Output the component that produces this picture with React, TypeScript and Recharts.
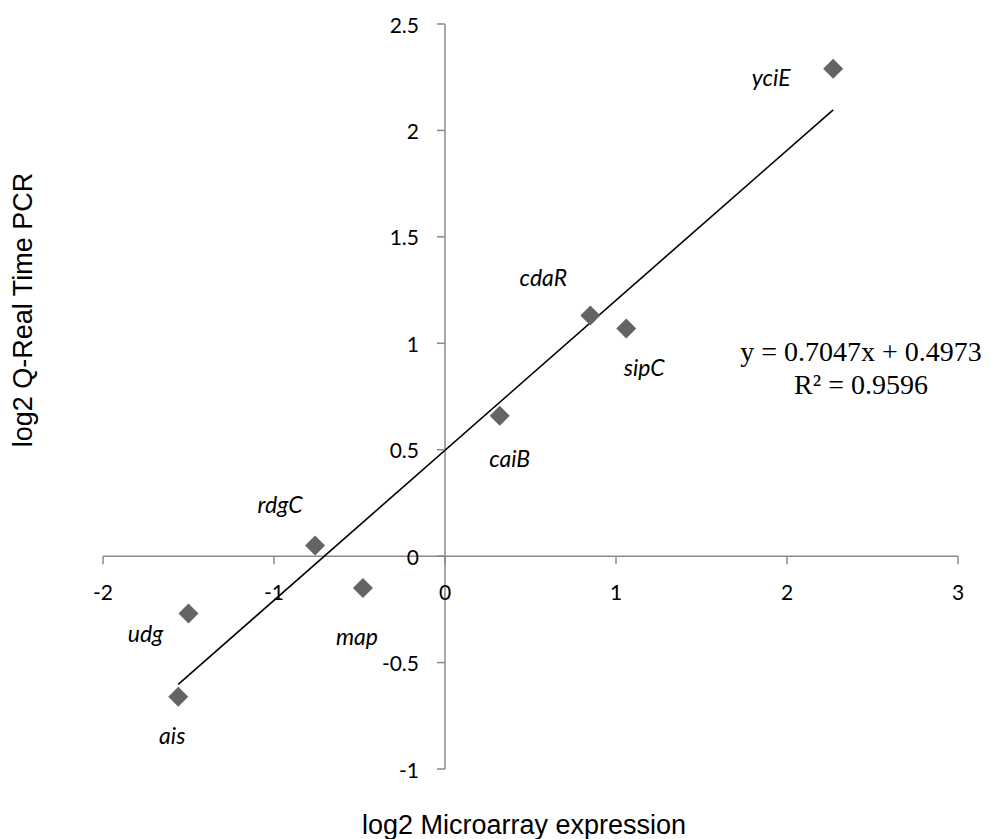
import { ScatterChart, Scatter, XAxis, YAxis, ReferenceLine } from 'recharts';

// Gene-level log2 fold changes: microarray (x) vs. Q-Real Time PCR (y)
const GENES = ['yciE', 'cdaR', 'sipC', 'caiB', 'rdgC', 'map', 'udg', 'ais'];
const MICROARRAY = [2.27, 0.85, 1.06, 0.32, -0.76, -0.48, -1.5, -1.56];
const QPCR = [2.29, 1.13, 1.07, 0.66, 0.05, -0.15, -0.27, -0.66];

const X_TICKS = [-2, -1, 0, 1, 2, 3];
const Y_TICKS = [-1, -0.5, 0, 0.5, 1, 1.5, 2, 2.5];

// Linear trendline as reported by the fit
const SLOPE = 0.7047;
const INTERCEPT = 0.4973;
const R_SQUARED = 0.9596;

const WIDTH = 996;
const HEIGHT = 839;
// axes need a non-zero size or recharts skips their ticks
const X_AXIS_H = 1;
const Y_AXIS_W = 1;
const MARGIN = { top: 24, right: 38, bottom: 70 - X_AXIS_H, left: 103 - Y_AXIS_W };
const X_DOMAIN: [number, number] = [-2, 3];
const Y_DOMAIN: [number, number] = [-1, 2.5];

const PLOT_LEFT = MARGIN.left + Y_AXIS_W;
const PLOT_W = WIDTH - PLOT_LEFT - MARGIN.right;
const PLOT_H = HEIGHT - MARGIN.top - MARGIN.bottom - X_AXIS_H;
// Pixel position of the zero crossings, where the axes are drawn
const ZERO_X = PLOT_LEFT + (PLOT_W * (0 - X_DOMAIN[0])) / (X_DOMAIN[1] - X_DOMAIN[0]);
const ZERO_Y = MARGIN.top + (PLOT_H * (Y_DOMAIN[1] - 0)) / (Y_DOMAIN[1] - Y_DOMAIN[0]);

const AXIS_COLOR = '#8a8a8a';
const MARKER_COLOR = '#646464';
const TICK_FONT = 'Lato, Carlito, sans-serif';
const TITLE_FONT = '"Liberation Sans", Arial, sans-serif';
const EQ_FONT = '"Liberation Serif", "Times New Roman", serif';

// Gene label placement relative to its marker: [dx, dy to baseline]
const LABEL_OFFSET: Record<string, [number, number]> = {
  yciE: [-62, 17],
  cdaR: [-47, -30],
  sipC: [18, 48],
  caiB: [10, 51],
  rdgC: [-35, -33],
  map: [-6, 57],
  udg: [-43, 28],
  ais: [-6, 47],
};

const points = GENES.map((gene, i) => ({ gene, x: MICROARRAY[i], y: QPCR[i] }));

const xMin = Math.min(...MICROARRAY);
const xMax = Math.max(...MICROARRAY);
const trend = [
  { x: xMin, y: SLOPE * xMin + INTERCEPT },
  { x: xMax, y: SLOPE * xMax + INTERCEPT },
];

function renderXTick({ x, payload }: any) {
  return (
    <g>
      <line x1={x} x2={x} y1={ZERO_Y} y2={ZERO_Y + 8} stroke={AXIS_COLOR} strokeWidth={1.5} />
      <text x={x} y={ZERO_Y + 44} textAnchor="middle" fontFamily={TICK_FONT} fontSize={21} fill="#000">
        {String(payload.value)}
      </text>
    </g>
  );
}

function renderYTick({ y, payload }: any) {
  return (
    <g>
      <line x1={ZERO_X - 8} x2={ZERO_X} y1={y} y2={y} stroke={AXIS_COLOR} strokeWidth={1.5} />
      <text
        x={ZERO_X - 26}
        y={y}
        textAnchor="end"
        dominantBaseline="central"
        fontFamily={TICK_FONT}
        fontSize={21}
        fill="#000"
      >
        {String(payload.value)}
      </text>
    </g>
  );
}

function GeneMarker({ cx, cy, payload }: any) {
  const r = 10;
  const [dx, dy] = LABEL_OFFSET[payload.gene] ?? [0, -20];
  return (
    <g>
      <polygon
        points={`${cx},${cy - r} ${cx + r},${cy} ${cx},${cy + r} ${cx - r},${cy}`}
        fill={MARKER_COLOR}
      />
      <text
        x={cx + dx}
        y={cy + dy}
        textAnchor="middle"
        fontFamily={TICK_FONT}
        fontStyle="italic"
        fontSize={23}
        fill="#000"
      >
        {payload.gene}
      </text>
    </g>
  );
}

export default function App() {
  return (
    <div style={{ position: 'absolute', left: 0, top: 0, width: WIDTH, height: HEIGHT, background: '#fff' }}>
      <ScatterChart width={WIDTH} height={HEIGHT} margin={MARGIN}>
        <XAxis
          type="number"
          dataKey="x"
          domain={X_DOMAIN}
          ticks={X_TICKS}
          interval={0}
          height={X_AXIS_H}
          axisLine={false}
          tickLine={false}
          tick={renderXTick}
        />
        <YAxis
          type="number"
          dataKey="y"
          domain={Y_DOMAIN}
          ticks={Y_TICKS}
          interval={0}
          width={Y_AXIS_W}
          axisLine={false}
          tickLine={false}
          tick={renderYTick}
        />
        <ReferenceLine x={0} stroke={AXIS_COLOR} strokeWidth={1.5} />
        <ReferenceLine y={0} stroke={AXIS_COLOR} strokeWidth={1.5} />
        <Scatter
          data={trend}
          line={{ stroke: '#000', strokeWidth: 1.6 }}
          shape={() => <g />}
          isAnimationActive={false}
        />
        <Scatter data={points} shape={<GeneMarker />} isAnimationActive={false} />

        <text x={861} y={361} textAnchor="middle" fontFamily={EQ_FONT} fontSize={28} fill="#000">
          {`y = ${SLOPE}x + ${INTERCEPT}`}
        </text>
        <text x={861} y={394} textAnchor="middle" fontFamily={EQ_FONT} fontSize={28} fill="#000">
          {`R² = ${R_SQUARED}`}
        </text>

        <text x={524} y={834} textAnchor="middle" fontFamily={TITLE_FONT} fontSize={27} fill="#000">
          log2 Microarray expression
        </text>
        <text
          x={32}
          y={310}
          transform="rotate(-90, 32, 310)"
          textAnchor="middle"
          fontFamily={TITLE_FONT}
          fontSize={27}
          fill="#000"
        >
          log2 Q-Real Time PCR
        </text>
      </ScatterChart>
    </div>
  );
}
